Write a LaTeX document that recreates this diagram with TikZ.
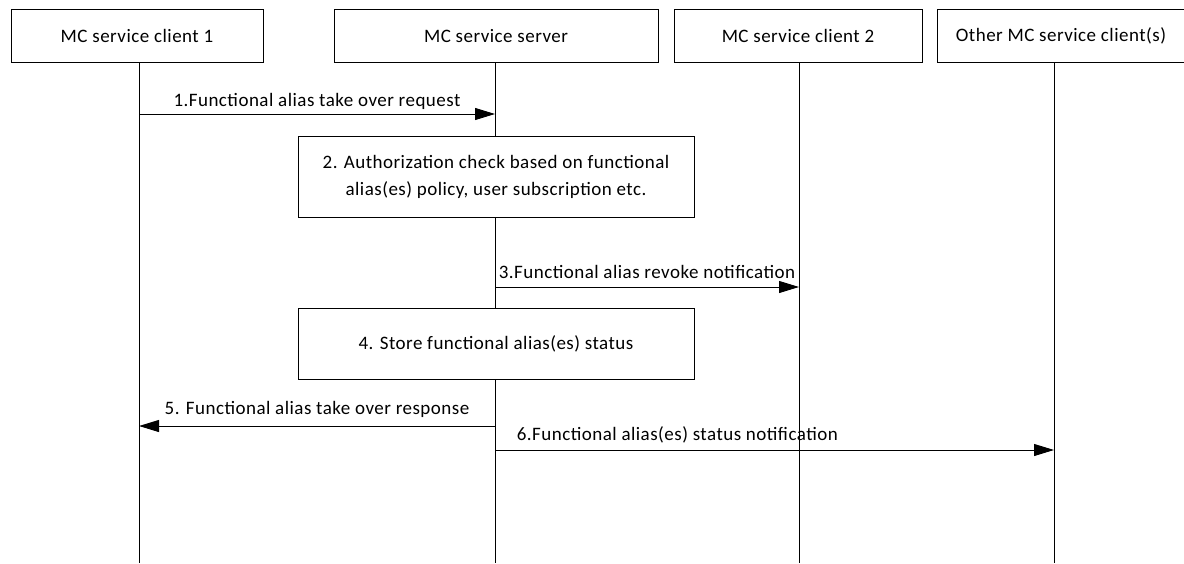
\documentclass[tikz,border=0pt]{standalone}
\usepackage{fontspec}
\setmainfont{Carlito}[LetterSpace=2.5]
\usetikzlibrary{positioning,arrows.meta,calc}

\begin{document}
\begin{tikzpicture}[
  x=1pt, y=-1pt,
  font=\fontsize{19}{27}\selectfont,
  line width=1pt,
  actor/.style = {draw, rectangle, align=center, inner sep=2pt,
                  minimum height=53pt},
  proc/.style  = {draw, rectangle, align=center, fill=white,
                  minimum width=396pt},
  msg/.style   = {-{Triangle[length=20pt,width=12pt]}}
]
\useasboundingbox (0,0) rectangle (1184,563);

% Actor row
\node[actor, minimum width=252pt] (cl1) at (137,36)  {MC service client 1};
\node[actor, minimum width=324pt] (srv) at (496,36)  {MC service server};
\node[actor, minimum width=248pt] (cl2) at (798,36)  {MC service client 2};
\node[actor, minimum width=247pt] (oth) at (1061,36) {Other MC service client(s)};

% Lifelines
\coordinate (cl1b) at (139,563);
\coordinate (srvb) at (495,563);
\coordinate (cl2b) at (799,563);
\coordinate (othb) at (1054,563);
\draw (cl1b |- cl1.south) -- (cl1b);
\draw (srvb |- srv.south) -- (srvb);
\draw (cl2b |- cl2.south) -- (cl2b);
\draw (othb |- oth.south) -- (othb);

% Server actions
\node[proc, minimum height=81pt] (auth)  at (496,176.5)
  {2. Authorization check based on functional\\alias(es) policy, user subscription etc.};
\node[proc, minimum height=71pt] (store) at (496,343.5)
  {4. Store functional alias(es) status};

% Messages
\coordinate (m1) at (0,114);
\coordinate (m3) at (0,287);
\coordinate (m5) at (0,426);
\coordinate (m6) at (0,450);
\draw[msg] (m1 -| cl1b) -- (m1 -| srvb)
  node[midway, above=1pt] {1.Functional alias take over request};
\draw[msg] (m3 -| srvb) -- (m3 -| cl2b)
  node[midway, above=5pt] {3.Functional alias revoke notification};
\draw[msg] (m5 -| srvb) -- (m5 -| cl1b)
  node[midway, above=5pt] {5. Functional alias take over response};
\draw[msg] (m6 -| srvb) -- (m6 -| othb)
  node[pos=0, anchor=south west, xshift=18pt, yshift=3pt] {6.Functional alias(es) status notification};
\end{tikzpicture}
\end{document}
